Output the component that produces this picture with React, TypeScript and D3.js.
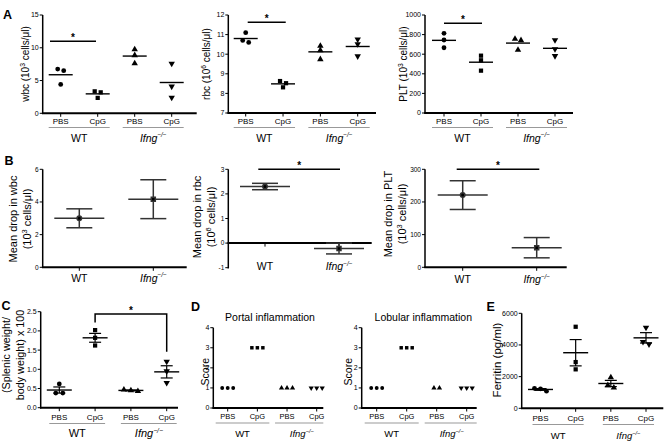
import React from "react";
import * as d3 from "d3";

const FONT = "'Liberation Sans', Arial, Helvetica, sans-serif";

// ---------- categories ----------
const treatments = ["PBS", "CpG", "PBS", "CpG"];
const genotypes = ["WT", "Ifng"];
const groupShapes = ["circle", "square", "triangle", "triangleDown"];
const dropShapes = ["circle", "square"];

// ---------- panel A (individual mice) ----------
const wbcValues = [[6.75, 6.5, 4.4], [3.35, 3.2, 2.35], [9.75, 8.85, 7.6], [7.6, 4.1, 2.4]];
const rbcValues = [[11.1, 10.7, 10.6], [8.63, 8.52, 8.31], [10.42, 10.2, 9.74], [10.76, 10.52, 9.9]];
const pltValues = [[813, 745, 666], [585, 538, 432], [755, 742, 643], [745, 653, 582]];
const wbcTicks = [0, 5, 10, 15];
const rbcTicks = [7, 8, 9, 10, 11, 12];
const pltTicks = [0, 200, 400, 600, 800, 1000];

// ---------- panel B (mean drop ± error) ----------
const dropWbcMean = [3.0, 4.17];
const dropWbcErr = [0.58, 1.19];
const dropRbcMean = [2.3, -0.22];
const dropRbcErr = [0.13, 0.22];
const dropPltMean = [221, 60];
const dropPltErr = [44, 31];
const dropWbcTicks = [0, 2, 4, 6];
const dropRbcTicks = [-1, 0, 1, 2, 3];
const dropPltTicks = [0, 100, 200, 300];

// ---------- panel C ----------
const spleenValues = [[0.62, 0.38, 0.38], [2.02, 1.82, 1.62], [0.47, 0.45, 0.43], [1.2, 0.95, 0.65]];
const spleenTicks = [0, 0.5, 1, 1.5, 2, 2.5];

// ---------- panel D ----------
const portalScores = [[1, 1, 1], [3, 3, 3], [1, 1, 1], [1, 1, 1]];
const lobularScores = [[1, 1, 1], [3, 3, 3], [1, 1], [1, 1, 1]];
const scoreTicks = [0, 1, 2, 3, 4];

// ---------- panel E ----------
const ferritinValues = [[1260, 1230, 1080], [5150, 2920, 2460], [1950, 1450, 1300], [5100, 4200, 4050]];
const ferritinTicks = [0, 2000, 4000, 6000];

// ---------- helpers ----------
function symbolD(shape: string, size: number) {
  const type = shape === "circle" ? d3.symbolCircle : shape === "square" ? d3.symbolSquare : d3.symbolTriangle;
  return d3.symbol().type(type).size(size)() as string;
}

function Marker({ shape, x, y, size }: any) {
  const tr = shape === "triangleDown" ? `translate(${x},${y}) rotate(180)` : `translate(${x},${y})`;
  return <path d={symbolD(shape, size)} transform={tr} fill="#000" />;
}

function IfngText({ x, y, size }: any) {
  return (
    <text x={x} y={y} fontSize={size} textAnchor="middle" fontStyle="italic">
      Ifng
      <tspan fontSize={size * 0.6} dy={-size * 0.4}>−/−</tspan>
    </text>
  );
}

type Part = [string, boolean?];
function rich(parts: Part[], size: number) {
  let shifted = false;
  return parts.map((p, i) => {
    if (p[1]) {
      shifted = true;
      return <tspan key={i} fontSize={size * 0.68} dy={-size * 0.38}>{p[0]}</tspan>;
    }
    const dy = shifted ? size * 0.38 : 0;
    shifted = false;
    return <tspan key={i} dy={dy}>{p[0]}</tspan>;
  });
}

function YLabel({ lines, cxs, cy, size }: any) {
  return (
    <g>
      {lines.map((parts: Part[], i: number) => (
        <text key={i} transform={`translate(${cxs[i] + size * 0.35},${cy}) rotate(-90)`} textAnchor="middle" fontSize={size}>
          {rich(parts, size)}
        </text>
      ))}
    </g>
  );
}

function YAxis({ x, y, ticks, fmt, size }: any) {
  const [r0, r1] = y.range();
  return (
    <g>
      <line x1={x} x2={x} y1={r0 + 0.75} y2={r1} stroke="#000" strokeWidth={1.5} />
      {ticks.map((t: number) => (
        <g key={t}>
          <line x1={x - 3} x2={x} y1={y(t)} y2={y(t)} stroke="#000" strokeWidth={1} />
          <text x={x - 4} y={y(t)} dy="0.35em" textAnchor="end" fontSize={size}>
            {fmt ? fmt(t) : String(t)}
          </text>
        </g>
      ))}
    </g>
  );
}

function jitter(ys: number[], spacing: number, thr = 4) {
  const idx = ys.map((_, i) => i).sort((a, b) => ys[a] - ys[b]);
  const offs = new Array(ys.length).fill(0);
  let cluster: number[] = [];
  const flush = () => {
    cluster.forEach((k, j) => (offs[k] = (j - (cluster.length - 1) / 2) * spacing));
    cluster = [];
  };
  idx.forEach((i) => {
    if (cluster.length && ys[i] - ys[cluster[cluster.length - 1]] > thr) flush();
    cluster.push(i);
  });
  flush();
  return offs;
}

function ScatterPanel({ c }: any) {
  const y = d3.scaleLinear().domain(c.domain).range([c.bottom, c.top]);
  const x = d3.scalePoint<number>().domain(d3.range(c.values.length)).range([c.xFirst, c.xLast]);
  const xAxisY = y(c.domain[0]);
  const meanW = c.meanW ?? 24;
  const capW = 12;
  return (
    <g>
      {c.title && (
        <text x={c.titleX} y={c.titleY} fontSize={10.5} textAnchor="middle">{c.title}</text>
      )}
      <YAxis x={c.axisX} y={y} ticks={c.ticks} fmt={c.fmt} size={c.tickSize ?? 7} />
      <line x1={c.axisX - 0.75} x2={c.xEnd} y1={xAxisY} y2={xAxisY} stroke="#000" strokeWidth={2} />
      {c.values.map((_: any, gi: number) => (
        <line key={gi} x1={x(gi)} x2={x(gi)} y1={xAxisY} y2={xAxisY + 3.5} stroke="#000" strokeWidth={1} />
      ))}
      {c.mode !== "none" &&
        c.values.map((vals: number[], gi: number) => {
          const m = d3.mean(vals) as number;
          const cx = x(gi) as number;
          const els = [
            <line key="m" x1={cx - meanW / 2} x2={cx + meanW / 2} y1={y(m)} y2={y(m)} stroke="#000" strokeWidth={1.4} />,
          ];
          if (c.mode === "sem") {
            const s = (d3.deviation(vals) as number) / Math.sqrt(vals.length);
            els.push(
              <line key="v" x1={cx} x2={cx} y1={y(m + s)} y2={y(m - s)} stroke="#000" strokeWidth={1.2} />,
              <line key="t" x1={cx - capW / 2} x2={cx + capW / 2} y1={y(m + s)} y2={y(m + s)} stroke="#000" strokeWidth={1.2} />,
              <line key="b" x1={cx - capW / 2} x2={cx + capW / 2} y1={y(m - s)} y2={y(m - s)} stroke="#000" strokeWidth={1.2} />
            );
          }
          return <g key={gi}>{els}</g>;
        })}
      {c.values.map((vals: number[], gi: number) => {
        const pys = vals.map((v) => y(v));
        const offs = jitter(pys, c.spacing ?? 6);
        return (
          <g key={gi}>
            {vals.map((v, i) => (
              <Marker key={i} shape={groupShapes[gi]} x={(x(gi) as number) + offs[i]} y={pys[i]} size={c.markerSize ?? 18} />
            ))}
          </g>
        );
      })}
      {c.sig && (
        <g>
          <line x1={(x(0) as number) + c.sig.d0} x2={(x(1) as number) + c.sig.d1} y1={y(c.sig.v)} y2={y(c.sig.v)} stroke="#000" strokeWidth={1.5} />
          <text x={((x(0) as number) + c.sig.d0 + (x(1) as number) + c.sig.d1) / 2} y={y(c.sig.v) - 0.5} fontSize={10} fontWeight="bold" textAnchor="middle">*</text>
        </g>
      )}
      {c.bracket && (
        <g>
          <path
            d={`M${x(1)},${y(c.bracket.left)} V${y(c.bracket.top)} H${x(3)} V${y(c.bracket.right)}`}
            fill="none"
            stroke="#000"
            strokeWidth={1.5}
          />
          <text x={((x(1) as number) + (x(3) as number)) / 2} y={y(c.bracket.top) - 0.5} fontSize={10} fontWeight="bold" textAnchor="middle">*</text>
        </g>
      )}
      {treatments.map((t, gi) => (
        <text key={gi} x={x(gi)} y={c.treatY} fontSize={c.treatSize ?? 8} textAnchor="middle">{t}</text>
      ))}
      <line x1={(x(0) as number) - c.underPad} x2={(x(1) as number) + c.underPad} y1={c.underY} y2={c.underY} stroke="#999" strokeWidth={1} />
      <line x1={(x(2) as number) - c.underPad} x2={Math.min((x(3) as number) + c.underPad, c.xEnd)} y1={c.underY} y2={c.underY} stroke="#999" strokeWidth={1} />
      <text x={((x(0) as number) + (x(1) as number)) / 2} y={c.groupY} fontSize={c.groupSize} textAnchor="middle">{genotypes[0]}</text>
      <IfngText x={((x(2) as number) + (x(3) as number)) / 2} y={c.groupY} size={c.groupSize} />
      <YLabel lines={c.label} cxs={c.labelX} cy={c.labelY} size={c.labelSize} />
    </g>
  );
}

function DropPanel({ c }: any) {
  const y = d3.scaleLinear().domain(c.domain).range([c.bottom, c.top]);
  const x = d3.scalePoint<string>().domain(genotypes).range([c.xWT, c.xIfng]);
  const zeroY = y(0);
  const meanW = 50;
  const capW = 26;
  return (
    <g>
      <YAxis x={c.axisX} y={y} ticks={c.ticks} size={6.5} />
      <line x1={c.axisX - 0.75} x2={c.xEnd} y1={zeroY} y2={zeroY} stroke="#000" strokeWidth={2} />
      {genotypes.map((g) => (
        <line key={g} x1={x(g)} x2={x(g)} y1={zeroY} y2={zeroY + 3.5} stroke="#000" strokeWidth={1} />
      ))}
      {genotypes.map((g, i) => {
        const cx = x(g) as number;
        const m = c.means[i];
        const e = c.errs[i];
        return (
          <g key={g} stroke="#333" strokeWidth={1.5}>
            <line x1={cx} x2={cx} y1={y(m + e)} y2={y(m - e)} />
            <line x1={cx - capW / 2} x2={cx + capW / 2} y1={y(m + e)} y2={y(m + e)} />
            <line x1={cx - capW / 2} x2={cx + capW / 2} y1={y(m - e)} y2={y(m - e)} />
            <line x1={cx - meanW / 2} x2={cx + meanW / 2} y1={y(m)} y2={y(m)} />
            <Marker shape={dropShapes[i]} x={cx} y={y(m)} size={16} />
          </g>
        );
      })}
      {c.sig && (
        <g>
          <line x1={(x("WT") as number) + c.sig.d0} x2={(x("Ifng") as number) + c.sig.d1} y1={y(c.sig.v)} y2={y(c.sig.v)} stroke="#000" strokeWidth={1.5} />
          <text x={((x("WT") as number) + c.sig.d0 + (x("Ifng") as number) + c.sig.d1) / 2} y={y(c.sig.v) - 0.5} fontSize={10} fontWeight="bold" textAnchor="middle">*</text>
        </g>
      )}
      <text x={x("WT")} y={c.labelBase} fontSize={10.5} textAnchor="middle">WT</text>
      <IfngText x={x("Ifng")} y={c.labelBase} size={10.5} />
      <YLabel lines={c.label} cxs={c.labelX} cy={c.labelY} size={11} />
    </g>
  );
}

const aCommon = {
  top: 15, mode: "mean", treatY: 124.3, treatSize: 8, underY: 127.5, underPad: 12,
  groupY: 141.5, groupSize: 10.5, markerSize: 18, spacing: 6, labelY: 64, labelSize: 10,
};

const panelA1 = {
  ...aCommon, axisX: 42.7, bottom: 113.3, domain: [0, 15], ticks: wbcTicks, xFirst: 60.7, xLast: 171.7, xEnd: 196.7,
  values: wbcValues, sig: { v: 11.0, d0: -10.7, d1: -1.7 },
  label: [[["wbc (10"], ["3", true], [" cells/μl)"]]], labelX: [25],
};
const panelA2 = {
  ...aCommon, axisX: 228.3, bottom: 113, domain: [7, 12], ticks: rbcTicks, xFirst: 245.7, xLast: 357.7, xEnd: 376,
  values: rbcValues, sig: { v: 11.63, d0: 2, d1: 2.7 },
  label: [[["rbc (10"], ["6", true], [" cells/μl)"]]], labelX: [206.5],
};
const panelA3 = {
  ...aCommon, axisX: 425, bottom: 113, domain: [0, 1000], ticks: pltTicks, xFirst: 444, xLast: 555, xEnd: 573,
  values: pltValues, sig: { v: 915, d0: 0, d1: 1 },
  label: [[["PLT (10"], ["3", true], [" cells/μl)"]]], labelX: [403.7],
};

const panelB1 = {
  axisX: 42.7, top: 169.3, bottom: 267.3, domain: [0, 6], ticks: dropWbcTicks, xWT: 79.3, xIfng: 153.3, xEnd: 186.7,
  means: dropWbcMean, errs: dropWbcErr, labelBase: 281.5,
  label: [[["Mean drop in wbc"]], [["(10"], ["3", true], [" cells/μl)"]]], labelX: [13, 27.5], labelY: 219,
};
const panelB2 = {
  axisX: 228.3, top: 169.3, bottom: 267.7, domain: [-1, 3], ticks: dropRbcTicks, xWT: 265, xIfng: 339, xEnd: 371.7,
  means: dropRbcMean, errs: dropRbcErr, labelBase: 270, sig: { v: 3, d0: -6.7, d1: 1 },
  label: [[["Mean drop in rbc"]], [["(10"], ["6", true], [" cells/μl)"]]], labelX: [197, 211], labelY: 217,
};
const panelB3 = {
  axisX: 425, top: 169.3, bottom: 267.3, domain: [0, 300], ticks: dropPltTicks, xWT: 462.7, xIfng: 536.7, xEnd: 566.7,
  means: dropPltMean, errs: dropPltErr, labelBase: 283.3, sig: { v: 300, d0: -6, d1: 2.6 },
  label: [[["Mean drop in PLT"]], [["(10"], ["3", true], [" cells/μl)"]]], labelX: [388.5, 402], labelY: 214,
};

const panelC = {
  axisX: 40.7, top: 311.7, bottom: 407.7, domain: [0, 2.5], ticks: spleenTicks, fmt: d3.format(".1f"),
  xFirst: 59.3, xLast: 166.7, xEnd: 178, values: spleenValues, mode: "sem", meanW: 25,
  treatY: 419.5, treatSize: 8, underY: 423.5, underPad: 10, groupY: 437.3, groupSize: 11,
  markerSize: 18, spacing: 7, bracket: { top: 2.44, left: 2.22, right: 1.46 },
  label: [[["(Splenic weight/"]], [["body weight) x 100"]]], labelX: [6.5, 20], labelY: 355, labelSize: 10.8,
};

const dCommon = {
  top: 327.7, bottom: 408, domain: [0, 4], ticks: scoreTicks, mode: "none",
  treatY: 418.5, treatSize: 7.5, underY: 423, underPad: 12, groupY: 436.7, groupSize: 9.5,
  markerSize: 12, spacing: 5.5, labelY: 371.7, labelSize: 10.5, titleY: 320.5,
};
const panelD1 = {
  ...dCommon, axisX: 213.3, xFirst: 227.7, xLast: 316.7, xEnd: 323.3, values: portalScores,
  title: "Portal inflammation", titleX: 270, label: [[["Score"]]], labelX: [205],
};
const panelD2 = {
  ...dCommon, axisX: 361.7, xFirst: 376.7, xLast: 466.7, xEnd: 476.7, values: lobularScores,
  title: "Lobular inflammation", titleX: 423.3, label: [[["Score"]]], labelX: [348.3],
};

const panelE = {
  axisX: 521.7, top: 313.3, bottom: 408.3, domain: [0, 6000], ticks: ferritinTicks,
  xFirst: 540.5, xLast: 646, xEnd: 663.3, values: ferritinValues, mode: "sem", meanW: 25,
  treatY: 421, treatSize: 8, underY: 424.5, underPad: 8, groupY: 438.5, groupSize: 9.5,
  markerSize: 18, spacing: 6,
  label: [[["Ferritin (pg/ml)"]]], labelX: [496.5], labelY: 360, labelSize: 11.5,
};

function PanelLetter({ x, y, t }: any) {
  return <text x={x} y={y} fontSize={12.5} fontWeight="bold">{t}</text>;
}

export default function App() {
  return (
    <svg
      width={665}
      height={446}
      style={{ position: "absolute", left: 0, top: 0, background: "#fff" }}
      fontFamily={FONT}
    >
      <rect x={0} y={0} width={665} height={446} fill="#fff" />
      <PanelLetter x={3} y={18.5} t="A" />
      <PanelLetter x={4.5} y={165} t="B" />
      <PanelLetter x={1.5} y={310} t="C" />
      <PanelLetter x={191} y={310.5} t="D" />
      <PanelLetter x={486.5} y={311} t="E" />
      <ScatterPanel c={panelA1} />
      <ScatterPanel c={panelA2} />
      <ScatterPanel c={panelA3} />
      <DropPanel c={panelB1} />
      <DropPanel c={panelB2} />
      <DropPanel c={panelB3} />
      <ScatterPanel c={panelC} />
      <ScatterPanel c={panelD1} />
      <ScatterPanel c={panelD2} />
      <ScatterPanel c={panelE} />
    </svg>
  );
}
